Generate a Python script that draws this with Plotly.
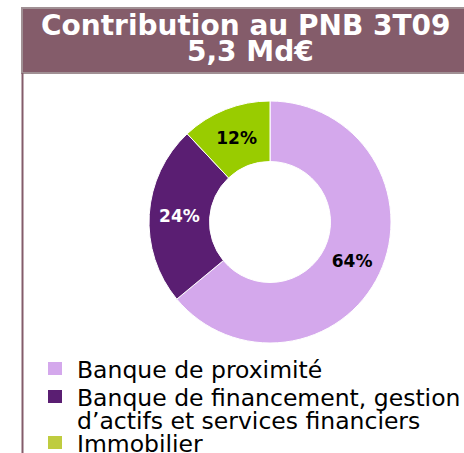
import plotly.graph_objects as go

W, H = 464, 453

categories = ["Banque de proximité",
              "Banque de financement, gestion<br>d’actifs et services financiers",
              "Immobilier"]
values = [64, 24, 12]
slice_colors = ["#D4A8EC", "#5A1E72", "#99CC00"]
legend_colors = ["#D4A8EC", "#5A1E72", "#BFCC3F"]
label_colors = ["black", "white", "black"]
title_lines = ["Contribution au PNB 3T09", "5,3 Md€"]


def px(x):
    return x / W


def py(y):
    return 1 - y / H


fig = go.Figure()
cx, cy, r = 270, 222, 121
fig.add_trace(go.Pie(
    labels=categories, values=values, sort=False, direction="clockwise",
    hole=0.5,
    marker=dict(colors=slice_colors, line=dict(color="white", width=1)),
    texttemplate="%{percent:.0%}", textposition="inside",
    insidetextorientation="horizontal",
    textfont=dict(family="DejaVu Sans", size=17, color=label_colors, weight="bold"),
    domain=dict(x=[px(cx - r), px(cx + r)], y=[py(cy + r), py(cy - r)]),
    showlegend=False, hoverinfo="label+percent",
))

shapes = [
    dict(type="rect", xref="paper", yref="paper", x0=px(22), x1=px(480), y0=py(73), y1=py(8),
         fillcolor="#845C6A", line=dict(color="#A09094", width=2), layer="below"),
    dict(type="line", xref="paper", yref="paper", x0=px(22.5), x1=px(22.5), y0=py(73), y1=0,
         line=dict(color="#845C6A", width=2)),
]
annotations = [
    dict(text=f"<b>{title_lines[0]}</b>", x=px(246), y=py(26), xref="paper", yref="paper",
         showarrow=False, xanchor="center", yanchor="middle",
         font=dict(family="DejaVu Sans", size=28, color="white")),
    dict(text=f"<b>{title_lines[1]}</b>", x=px(250), y=py(51), xref="paper", yref="paper",
         showarrow=False, xanchor="center", yanchor="middle",
         font=dict(family="DejaVu Sans", size=28, color="white")),
]

row_y = [369, 397, 443]
line_gap = 23
for name, col, yy in zip(categories, legend_colors, row_y):
    shapes.append(dict(type="rect", xref="paper", yref="paper", x0=px(48), x1=px(62),
                       y0=py(yy + 6), y1=py(yy - 7), fillcolor=col, line=dict(width=0)))
    for k, part in enumerate(name.split("<br>")):
        annotations.append(dict(text=part, x=px(75), y=py(yy + 1 + k * line_gap),
                                xref="paper", yref="paper",
                                showarrow=False, xanchor="left", yanchor="middle", align="left",
                                font=dict(family="DejaVu Sans", size=23.5, color="black")))

fig.update_layout(
    width=W, height=H, margin=dict(l=0, r=0, t=0, b=0),
    paper_bgcolor="white", plot_bgcolor="white",
    shapes=shapes, annotations=annotations,
)
fig.write_html("out.html", config={"displayModeBar": False})
with open("out.html", encoding="utf-8") as f:
    html = f.read()
html = html.replace("<head>", "<head><style>html,body{margin:0;padding:0;overflow:hidden;}</style>", 1)
with open("out.html", "w", encoding="utf-8") as f:
    f.write(html)
